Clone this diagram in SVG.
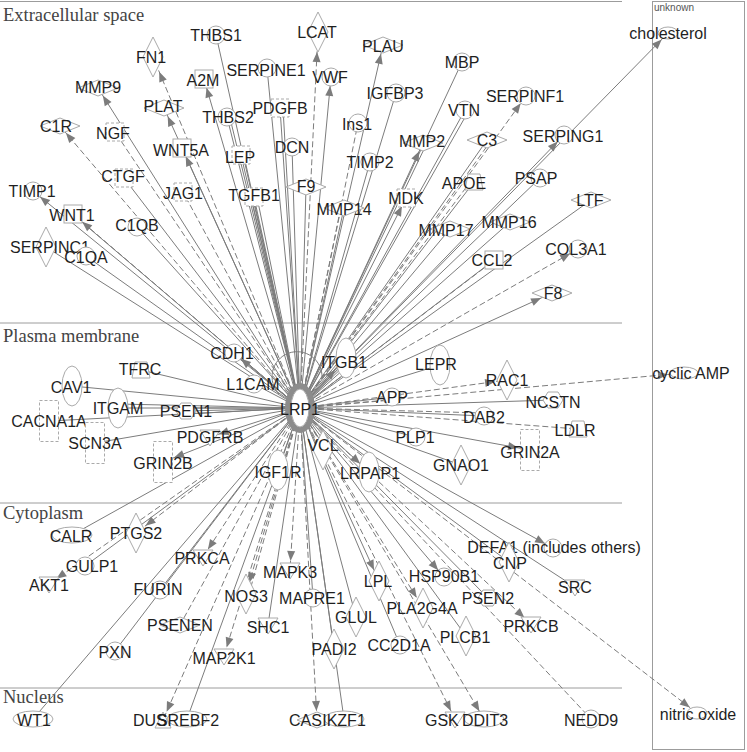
<svg xmlns="http://www.w3.org/2000/svg" width="747" height="752" viewBox="0 0 747 752">
<style>
.sec{stroke:#9c9c9c;stroke-width:1;fill:none}
.lab{font-family:"Liberation Serif",serif;font-size:18.5px;fill:#444}
.unk{font-family:"Liberation Sans",sans-serif;font-size:10px;fill:#555}
.s{stroke:#7c7c7c;stroke-width:1;fill:none}
.d{stroke:#7c7c7c;stroke-width:1;fill:none;stroke-dasharray:6 3}
.n{fill:#fff;stroke:#aaa;stroke-width:1}
.nd{fill:#fff;stroke:#aaa;stroke-width:1;stroke-dasharray:3 2}
.t{font-family:"Liberation Sans",Arial,sans-serif;font-size:16px;fill:#1f1f1f;text-anchor:middle}
.ts{font-family:"Liberation Sans",Arial,sans-serif;font-size:16px;fill:#1f1f1f;text-anchor:start}
</style>
<defs>
<marker id="a9" markerUnits="userSpaceOnUse" markerWidth="11" markerHeight="9" refX="19" refY="4" orient="auto" overflow="visible"><path d="M0,0 L10,4 L0,8 z" fill="#7c7c7c"/></marker>
<marker id="a12" markerUnits="userSpaceOnUse" markerWidth="11" markerHeight="9" refX="22" refY="4" orient="auto" overflow="visible"><path d="M0,0 L10,4 L0,8 z" fill="#7c7c7c"/></marker>
<marker id="a16" markerUnits="userSpaceOnUse" markerWidth="11" markerHeight="9" refX="26" refY="4" orient="auto" overflow="visible"><path d="M0,0 L10,4 L0,8 z" fill="#7c7c7c"/></marker>
<marker id="a20" markerUnits="userSpaceOnUse" markerWidth="11" markerHeight="9" refX="30" refY="4" orient="auto" overflow="visible"><path d="M0,0 L10,4 L0,8 z" fill="#7c7c7c"/></marker>
<circle id="c" r="9"/>
<path id="hd" d="M-20,0 L0,-8 L20,0 L0,8 Z"/>
<path id="vd" d="M0,-20 L10,0 L0,20 L-10,0 Z"/>
<rect id="sq" x="-9" y="-9" width="18" height="18"/>
<ellipse id="ve" rx="10" ry="20"/>
<ellipse id="he" rx="20" ry="8"/>
<ellipse id="ch" rx="10" ry="6"/>
<ellipse id="ch2" rx="14" ry="6"/>
<path id="kt" d="M-10,-7 L10,-7 L0,9 Z"/>
<path id="tr" d="M-6,-8 L6,-8 L9,8 L-9,8 Z"/>
<path id="hx" d="M-10,0 L-5,-8 L5,-8 L10,0 L5,8 L-5,8 Z"/>
<path id="ph" d="M-8,8 L8,8 L0,-8 Z"/>
<rect id="ic" x="-9.5" y="-20.5" width="19" height="41"/>
</defs>
<rect width="747" height="752" fill="#fff"/>
<g id="compartments">
<line class="sec" x1="0" y1="1.5" x2="622" y2="1.5"/>
<line class="sec" x1="0" y1="323" x2="622" y2="323"/>
<line class="sec" x1="0" y1="503" x2="622" y2="503"/>
<line class="sec" x1="0" y1="688" x2="622" y2="688"/>
<rect class="sec" x="652.5" y="1.5" width="92" height="748"/>
<text class="lab" x="3" y="21">Extracellular space</text>
<text class="lab" x="3" y="342">Plasma membrane</text>
<text class="lab" x="3" y="519">Cytoplasm</text>
<text class="lab" x="3" y="703">Nucleus</text>
<text class="unk" x="654" y="11">unknown</text>
</g>
<g id="connectors">
<line class="s" x1="300" y1="408" x2="216" y2="35"/>
<line class="d" x1="300" y1="408" x2="318" y2="32" marker-end="url(#a20)"/>
<line class="d" x1="300" y1="408" x2="153" y2="57" marker-end="url(#a16)"/>
<line class="s" x1="300" y1="408" x2="383" y2="45" marker-end="url(#a9)"/>
<line class="s" x1="300" y1="408" x2="462" y2="62"/>
<line class="s" x1="300" y1="408" x2="204" y2="79" marker-end="url(#a9)"/>
<line class="s" x1="300" y1="408" x2="267" y2="68"/>
<line class="s" x1="300" y1="408" x2="331" y2="77" marker-end="url(#a9)"/>
<line class="s" x1="300" y1="408" x2="396" y2="93"/>
<line class="s" x1="300" y1="408" x2="98" y2="88" marker-end="url(#a9)"/>
<line class="s" x1="300" y1="408" x2="164" y2="108" marker-end="url(#a9)"/>
<line class="d" x1="300" y1="408" x2="526" y2="96" marker-end="url(#a9)"/>
<line class="s" x1="300" y1="408" x2="280" y2="108"/>
<line class="s" x1="300" y1="408" x2="283" y2="108"/>
<line class="d" x1="300" y1="408" x2="358" y2="123"/>
<line class="s" x1="300" y1="408" x2="227" y2="117"/>
<line class="s" x1="300" y1="408" x2="230" y2="118"/>
<line class="s" x1="300" y1="408" x2="465" y2="110"/>
<line class="s" x1="300" y1="408" x2="468" y2="112"/>
<line class="d" x1="300" y1="408" x2="60" y2="126" marker-end="url(#a9)"/>
<line class="d" x1="300" y1="408" x2="115" y2="132"/>
<line class="s" x1="300" y1="408" x2="487" y2="140"/>
<line class="d" x1="300" y1="408" x2="490" y2="142"/>
<line class="s" x1="300" y1="408" x2="564" y2="135" stroke-width="2" marker-end="url(#a9)"/>
<line class="s" x1="300" y1="408" x2="668" y2="33" marker-end="url(#a9)"/>
<line class="s" x1="300" y1="408" x2="423" y2="143" marker-end="url(#a9)"/>
<line class="s" x1="300" y1="408" x2="426" y2="145"/>
<line class="s" x1="300" y1="408" x2="182" y2="148" marker-end="url(#a9)"/>
<line class="s" x1="300" y1="408" x2="241" y2="155"/>
<line class="s" x1="300" y1="408" x2="244" y2="156"/>
<line class="s" x1="300" y1="408" x2="292" y2="147"/>
<line class="s" x1="300" y1="408" x2="370" y2="162"/>
<line class="s" x1="300" y1="408" x2="474" y2="182"/>
<line class="d" x1="300" y1="408" x2="471" y2="181"/>
<line class="s" x1="300" y1="408" x2="540" y2="178"/>
<line class="s" x1="300" y1="408" x2="124" y2="178"/>
<line class="d" x1="300" y1="408" x2="183" y2="192"/>
<line class="s" x1="300" y1="408" x2="251" y2="197"/>
<line class="s" x1="300" y1="408" x2="254" y2="197"/>
<line class="s" x1="300" y1="408" x2="257" y2="197"/>
<line class="s" x1="300" y1="408" x2="306" y2="187"/>
<line class="s" x1="300" y1="408" x2="344" y2="208"/>
<line class="d" x1="300" y1="408" x2="341" y2="208"/>
<line class="s" x1="300" y1="408" x2="406" y2="198" marker-end="url(#a9)"/>
<line class="s" x1="300" y1="408" x2="510" y2="222"/>
<line class="s" x1="300" y1="408" x2="450" y2="229"/>
<line class="s" x1="300" y1="408" x2="591" y2="200"/>
<line class="s" x1="300" y1="408" x2="33" y2="191" marker-end="url(#a9)"/>
<line class="d" x1="300" y1="408" x2="73" y2="214" marker-end="url(#a12)"/>
<line class="s" x1="300" y1="408" x2="76" y2="217"/>
<line class="s" x1="300" y1="408" x2="137" y2="227"/>
<line class="d" x1="300" y1="408" x2="578" y2="249" marker-end="url(#a9)"/>
<line class="s" x1="300" y1="408" x2="494" y2="260"/>
<line class="d" x1="300" y1="408" x2="492" y2="262"/>
<line class="s" x1="300" y1="408" x2="46" y2="247"/>
<line class="s" x1="300" y1="408" x2="86" y2="256"/>
<line class="s" x1="300" y1="408" x2="552" y2="293" marker-end="url(#a12)"/>
<line class="s" x1="300" y1="408" x2="234" y2="353" marker-end="url(#a9)"/>
<line class="s" x1="300" y1="408" x2="346" y2="358" marker-end="url(#a16)"/>
<line class="s" x1="300" y1="408" x2="343" y2="360"/>
<line class="s" x1="300" y1="408" x2="440" y2="365"/>
<line class="s" x1="300" y1="408" x2="141" y2="370"/>
<line class="s" x1="300" y1="408" x2="254" y2="384"/>
<line class="d" x1="300" y1="408" x2="507" y2="380" marker-end="url(#a12)"/>
<line class="d" x1="300" y1="408" x2="684" y2="373" marker-end="url(#a16)"/>
<line class="s" x1="300" y1="408" x2="72" y2="386"/>
<line class="s" x1="300" y1="408" x2="118" y2="408"/>
<line class="s" x1="300" y1="408" x2="118" y2="404"/>
<line class="s" x1="300" y1="408" x2="186" y2="411"/>
<line class="s" x1="300" y1="408" x2="186" y2="408"/>
<line class="s" x1="300" y1="408" x2="186" y2="414"/>
<line class="s" x1="300" y1="408" x2="553" y2="400"/>
<line class="s" x1="300" y1="408" x2="392" y2="397"/>
<line class="d" x1="300" y1="408" x2="392" y2="400"/>
<line class="s" x1="300" y1="408" x2="484" y2="416"/>
<line class="d" x1="300" y1="408" x2="484" y2="413"/>
<line class="d" x1="300" y1="408" x2="578" y2="429"/>
<line class="s" x1="300" y1="408" x2="49" y2="421"/>
<line class="s" x1="300" y1="408" x2="95" y2="443"/>
<line class="s" x1="300" y1="408" x2="210" y2="437" marker-end="url(#a9)"/>
<line class="s" x1="300" y1="408" x2="163" y2="462" marker-end="url(#a12)"/>
<line class="s" x1="300" y1="408" x2="416" y2="437"/>
<line class="s" x1="300" y1="408" x2="323" y2="445"/>
<line class="s" x1="300" y1="408" x2="530" y2="450" marker-end="url(#a12)"/>
<line class="s" x1="300" y1="408" x2="278" y2="470"/>
<line class="s" x1="300" y1="408" x2="369" y2="472" marker-end="url(#a12)"/>
<line class="s" x1="300" y1="408" x2="461" y2="465"/>
<line class="s" x1="300" y1="408" x2="72" y2="535"/>
<line class="d" x1="300" y1="408" x2="136" y2="533" marker-end="url(#a12)"/>
<line class="s" x1="300" y1="408" x2="553" y2="548" marker-end="url(#a9)"/>
<line class="s" x1="300" y1="408" x2="509" y2="562"/>
<line class="s" x1="300" y1="408" x2="85" y2="566"/>
<line class="d" x1="300" y1="408" x2="203" y2="557" marker-end="url(#a9)"/>
<line class="d" x1="300" y1="408" x2="49" y2="584" marker-end="url(#a9)"/>
<line class="s" x1="300" y1="408" x2="444" y2="577" marker-end="url(#a9)"/>
<line class="s" x1="300" y1="408" x2="575" y2="587"/>
<line class="s" x1="300" y1="408" x2="160" y2="590"/>
<line class="d" x1="300" y1="408" x2="290" y2="570" marker-end="url(#a9)"/>
<line class="d" x1="300" y1="408" x2="246" y2="594" marker-end="url(#a12)"/>
<line class="d" x1="300" y1="408" x2="249" y2="594"/>
<line class="s" x1="300" y1="408" x2="313" y2="598"/>
<line class="s" x1="300" y1="408" x2="379" y2="581" marker-end="url(#a12)"/>
<line class="d" x1="300" y1="408" x2="423" y2="608" marker-end="url(#a12)"/>
<line class="s" x1="300" y1="408" x2="488" y2="598"/>
<line class="d" x1="300" y1="408" x2="180" y2="625"/>
<line class="s" x1="300" y1="408" x2="268" y2="625"/>
<line class="s" x1="300" y1="408" x2="356" y2="617"/>
<line class="d" x1="300" y1="408" x2="531" y2="624" marker-end="url(#a9)"/>
<line class="s" x1="300" y1="408" x2="466" y2="636"/>
<line class="s" x1="300" y1="408" x2="115" y2="651"/>
<line class="d" x1="300" y1="408" x2="224" y2="656" marker-end="url(#a9)"/>
<line class="s" x1="300" y1="408" x2="400" y2="645"/>
<line class="s" x1="300" y1="408" x2="334" y2="649"/>
<line class="s" x1="300" y1="408" x2="33" y2="719"/>
<line class="d" x1="300" y1="408" x2="163" y2="720" marker-end="url(#a9)"/>
<line class="s" x1="300" y1="408" x2="187" y2="719"/>
<line class="d" x1="300" y1="408" x2="317" y2="720" marker-end="url(#a9)"/>
<line class="s" x1="300" y1="408" x2="344" y2="719"/>
<line class="d" x1="300" y1="408" x2="455" y2="719" marker-end="url(#a9)"/>
<line class="d" x1="300" y1="408" x2="484" y2="719" marker-end="url(#a9)"/>
<line class="d" x1="300" y1="408" x2="591" y2="719"/>
<line class="d" x1="300" y1="408" x2="697" y2="713" marker-end="url(#a9)"/>
<path class="s" d="M279,394 A25,25 0 1 1 322,378"/>
</g>
<g id="nodes">
<g id="n-THBS1"><use href="#c" class="n" x="216" y="35"/><text class="t" x="216" y="41">THBS1</text></g>
<g id="n-LCAT"><use href="#vd" class="n" x="318" y="32"/><text class="t" x="317" y="38">LCAT</text></g>
<g id="n-FN1"><use href="#vd" class="n" x="153" y="57"/><text class="t" x="151" y="63">FN1</text></g>
<g id="n-PLAU"><use href="#hd" class="n" x="383" y="45"/><text class="t" x="383" y="52">PLAU</text></g>
<g id="n-MBP"><use href="#c" class="n" x="462" y="62"/><text class="t" x="462" y="68">MBP</text></g>
<g id="n-A2M"><use href="#sq" class="n" x="204" y="79"/><text class="t" x="203" y="86">A2M</text></g>
<g id="n-SERPINE1"><use href="#c" class="n" x="267" y="68"/><text class="t" x="266" y="76">SERPINE1</text></g>
<g id="n-VWF"><use href="#c" class="n" x="331" y="77"/><text class="t" x="330" y="83">VWF</text></g>
<g id="n-IGFBP3"><use href="#c" class="n" x="396" y="93"/><text class="t" x="395" y="99">IGFBP3</text></g>
<g id="n-MMP9"><use href="#hd" class="n" x="98" y="88"/><text class="t" x="98" y="93">MMP9</text></g>
<g id="n-PLAT"><use href="#hd" class="n" x="164" y="108"/><text class="t" x="163" y="112">PLAT</text></g>
<g id="n-SERPINF1"><use href="#c" class="n" x="526" y="96"/><text class="t" x="525" y="102">SERPINF1</text></g>
<g id="n-PDGFB"><use href="#sq" class="nd" x="280" y="108"/><text class="t" x="280" y="114">PDGFB</text></g>
<g id="n-Ins1"><use href="#c" class="n" x="358" y="123"/><text class="t" x="357" y="130">Ins1</text></g>
<g id="n-THBS2"><use href="#c" class="n" x="227" y="117"/><text class="t" x="228" y="123">THBS2</text></g>
<g id="n-VTN"><use href="#c" class="n" x="465" y="110"/><text class="t" x="464" y="116">VTN</text></g>
<g id="n-C1R"><use href="#hd" class="n" x="60" y="126"/><text class="t" x="56" y="132">C1R</text></g>
<g id="n-NGF"><use href="#sq" class="nd" x="115" y="132"/><text class="t" x="113" y="139">NGF</text></g>
<g id="n-C3"><use href="#hd" class="n" x="487" y="140"/><text class="t" x="487" y="146">C3</text></g>
<g id="n-SERPING1"><use href="#c" class="n" x="564" y="135"/><text class="t" x="563" y="142">SERPING1</text></g>
<g id="n-MMP2"><use href="#hd" class="n" x="423" y="143"/><text class="t" x="422" y="147">MMP2</text></g>
<g id="n-WNT5A"><use href="#sq" class="n" x="182" y="148"/><text class="t" x="181" y="156">WNT5A</text></g>
<g id="n-LEP"><use href="#sq" class="nd" x="241" y="155"/><text class="t" x="240" y="163">LEP</text></g>
<g id="n-DCN"><use href="#c" class="n" x="292" y="147"/><text class="t" x="292" y="153">DCN</text></g>
<g id="n-TIMP2"><use href="#c" class="n" x="370" y="162"/><text class="t" x="370" y="168">TIMP2</text></g>
<g id="n-APOE"><use href="#tr" class="n" x="474" y="182"/><text class="t" x="464" y="189">APOE</text></g>
<g id="n-PSAP"><use href="#c" class="n" x="540" y="178"/><text class="t" x="536" y="184">PSAP</text></g>
<g id="n-CTGF"><use href="#sq" class="nd" x="124" y="178"/><text class="t" x="123" y="182">CTGF</text></g>
<g id="n-JAG1"><use href="#sq" class="nd" x="183" y="192"/><text class="t" x="183" y="199">JAG1</text></g>
<g id="n-TGFB1"><use href="#sq" class="nd" x="254" y="197"/><text class="t" x="254" y="201">TGFB1</text></g>
<g id="n-F9"><use href="#hd" class="n" x="306" y="187"/><text class="t" x="306" y="192">F9</text></g>
<g id="n-MMP14"><use href="#hd" class="n" x="344" y="208"/><text class="t" x="344" y="215">MMP14</text></g>
<g id="n-MDK"><use href="#sq" class="nd" x="406" y="198"/><text class="t" x="406" y="204">MDK</text></g>
<g id="n-MMP16"><use href="#hd" class="n" x="510" y="222"/><text class="t" x="509" y="228">MMP16</text></g>
<g id="n-MMP17"><use href="#hd" class="n" x="450" y="229"/><text class="t" x="446" y="236">MMP17</text></g>
<g id="n-LTF"><use href="#hd" class="n" x="591" y="200"/><text class="t" x="590" y="206">LTF</text></g>
<g id="n-TIMP1"><use href="#c" class="n" x="33" y="191"/><text class="t" x="32" y="197">TIMP1</text></g>
<g id="n-WNT1"><use href="#sq" class="n" x="73" y="214"/><text class="t" x="72" y="221">WNT1</text></g>
<g id="n-C1QB"><use href="#c" class="n" x="137" y="227"/><text class="t" x="137" y="231">C1QB</text></g>
<g id="n-COL3A1"><use href="#c" class="n" x="578" y="249"/><text class="t" x="576" y="255">COL3A1</text></g>
<g id="n-CCL2"><use href="#sq" class="n" x="494" y="260"/><text class="t" x="492" y="266">CCL2</text></g>
<g id="n-SERPINC1"><use href="#vd" class="n" x="46" y="247"/><text class="t" x="50" y="253">SERPINC1</text></g>
<g id="n-C1QA"><use href="#c" class="n" x="86" y="256"/><text class="t" x="86" y="263">C1QA</text></g>
<g id="n-F8"><use href="#hd" class="n" x="552" y="293"/><text class="t" x="553" y="299">F8</text></g>
<g id="n-cholesterol"><use href="#ch" class="n" x="668" y="33"/><text class="t" x="668" y="39">cholesterol</text></g>
<g id="n-CDH1"><use href="#c" class="n" x="234" y="353"/><text class="t" x="232" y="359">CDH1</text></g>
<g id="n-ITGB1"><use href="#ve" class="n" x="346" y="358"/><text class="t" x="344" y="368">ITGB1</text></g>
<g id="n-LEPR"><use href="#ve" class="n" x="440" y="365"/><text class="t" x="436" y="370">LEPR</text></g>
<g id="n-TFRC"><use href="#tr" class="n" x="141" y="370"/><text class="t" x="140" y="375">TFRC</text></g>
<g id="n-L1CAM"><use href="#c" class="n" x="254" y="384"/><text class="t" x="253" y="390">L1CAM</text></g>
<g id="n-RAC1"><use href="#vd" class="n" x="507" y="380"/><text class="t" x="507" y="386">RAC1</text></g>
<g id="n-cAMP"><use href="#ch2" class="n" x="684" y="373"/><text class="t" x="691" y="379">cyclic AMP</text></g>
<g id="n-CAV1"><use href="#ve" class="n" x="72" y="386"/><text class="t" x="71" y="393">CAV1</text></g>
<g id="n-ITGAM"><use href="#ve" class="n" x="118" y="408"/><text class="t" x="118" y="414">ITGAM</text></g>
<g id="n-PSEN1"><use href="#hx" class="n" x="186" y="411"/><text class="t" x="186" y="417">PSEN1</text></g>
<g id="n-NCSTN"><use href="#hx" class="n" x="553" y="400"/><text class="t" x="553" y="408">NCSTN</text></g>
<g id="n-APP"><use href="#c" class="n" x="392" y="397"/><text class="t" x="392" y="403">APP</text></g>
<g id="n-DAB2"><use href="#c" class="n" x="484" y="416"/><text class="t" x="484" y="423">DAB2</text></g>
<g id="n-LDLR"><use href="#tr" class="n" x="578" y="429"/><text class="t" x="575" y="436">LDLR</text></g>
<g id="n-CACNA1A"><use href="#ic" class="nd" x="49" y="421"/><text class="t" x="49" y="427">CACNA1A</text></g>
<g id="n-SCN3A"><use href="#ic" class="nd" x="95" y="443"/><text class="t" x="95" y="449">SCN3A</text></g>
<g id="n-PDGFRB"><use href="#kt" class="n" x="210" y="437"/><text class="t" x="210" y="443">PDGFRB</text></g>
<g id="n-GRIN2B"><use href="#ic" class="nd" x="163" y="462"/><text class="t" x="163" y="469">GRIN2B</text></g>
<g id="n-PLP1"><use href="#c" class="n" x="416" y="437"/><text class="t" x="415" y="443">PLP1</text></g>
<g id="n-VCL"><use href="#vd" class="n" x="323" y="450"/><text class="t" x="323" y="451">VCL</text></g>
<g id="n-GRIN2A"><use href="#ic" class="nd" x="530" y="450"/><text class="t" x="530" y="458">GRIN2A</text></g>
<g id="n-IGF1R"><use href="#ve" class="n" x="278" y="470"/><text class="t" x="278" y="478">IGF1R</text></g>
<g id="n-LRPAP1"><use href="#ve" class="n" x="369" y="472"/><text class="t" x="370" y="479">LRPAP1</text></g>
<g id="n-GNAO1"><use href="#vd" class="n" x="461" y="465"/><text class="t" x="461" y="471">GNAO1</text></g>
<g id="n-CALR"><use href="#he" class="n" x="72" y="535"/><text class="t" x="71" y="542">CALR</text></g>
<g id="n-PTGS2"><use href="#vd" class="n" x="136" y="533"/><text class="t" x="136" y="539">PTGS2</text></g>
<g id="n-DEFA1"><use href="#c" class="n" x="553" y="548"/><text class="t" x="554" y="553">DEFA1 (includes others)</text></g>
<g id="n-CNP"><use href="#vd" class="n" x="509" y="562"/><text class="t" x="510" y="569">CNP</text></g>
<g id="n-GULP1"><use href="#c" class="n" x="85" y="566"/><text class="t" x="92" y="572">GULP1</text></g>
<g id="n-PRKCA"><use href="#kt" class="n" x="203" y="557"/><text class="t" x="202" y="564">PRKCA</text></g>
<g id="n-AKT1"><use href="#kt" class="n" x="49" y="584"/><text class="t" x="49" y="591">AKT1</text></g>
<g id="n-HSP90B1"><use href="#c" class="n" x="444" y="577"/><text class="t" x="444" y="582">HSP90B1</text></g>
<g id="n-SRC"><use href="#kt" class="n" x="575" y="587"/><text class="t" x="575" y="593">SRC</text></g>
<g id="n-FURIN"><use href="#c" class="n" x="160" y="590"/><text class="t" x="158" y="595">FURIN</text></g>
<g id="n-MAPK3"><use href="#kt" class="n" x="290" y="570"/><text class="t" x="290" y="578">MAPK3</text></g>
<g id="n-NOS3"><use href="#vd" class="n" x="246" y="594"/><text class="t" x="246" y="602">NOS3</text></g>
<g id="n-MAPRE1"><use href="#c" class="n" x="313" y="598"/><text class="t" x="312" y="604">MAPRE1</text></g>
<g id="n-LPL"><use href="#vd" class="n" x="379" y="581"/><text class="t" x="378" y="587">LPL</text></g>
<g id="n-PLA2G4A"><use href="#vd" class="n" x="423" y="608"/><text class="t" x="422" y="614">PLA2G4A</text></g>
<g id="n-PSEN2"><use href="#hx" class="n" x="488" y="598"/><text class="t" x="488" y="604">PSEN2</text></g>
<g id="n-PSENEN"><use href="#hd" class="n" x="180" y="625"/><text class="t" x="180" y="631">PSENEN</text></g>
<g id="n-SHC1"><use href="#kt" class="n" x="268" y="625"/><text class="t" x="268" y="633">SHC1</text></g>
<g id="n-GLUL"><use href="#vd" class="n" x="356" y="617"/><text class="t" x="356" y="623">GLUL</text></g>
<g id="n-PRKCB"><use href="#kt" class="n" x="531" y="624"/><text class="t" x="531" y="632">PRKCB</text></g>
<g id="n-PLCB1"><use href="#vd" class="n" x="466" y="636"/><text class="t" x="465" y="643">PLCB1</text></g>
<g id="n-PXN"><use href="#c" class="n" x="115" y="651"/><text class="t" x="115" y="658">PXN</text></g>
<g id="n-MAP2K1"><use href="#kt" class="n" x="224" y="656"/><text class="t" x="224" y="664">MAP2K1</text></g>
<g id="n-CC2D1A"><use href="#c" class="n" x="400" y="645"/><text class="t" x="399" y="651">CC2D1A</text></g>
<g id="n-PADI2"><use href="#vd" class="n" x="334" y="649"/><text class="t" x="334" y="655">PADI2</text></g>
<g id="n-WT1"><use href="#he" class="n" x="33" y="719"/><text class="t" x="34" y="726">WT1</text></g>
<g id="n-DUS"><use href="#ph" class="n" x="163" y="720"/><text class="ts" x="133" y="726">DUS</text></g>
<g id="n-SREBF2"><use href="#he" class="n" x="187" y="719"/><text class="t" x="188" y="726">SREBF2</text></g>
<g id="n-CAS"><use href="#hd" class="n" x="317" y="720"/><text class="ts" x="289" y="726">CAS</text></g>
<g id="n-IKZF1"><use href="#he" class="n" x="344" y="719"/><text class="t" x="344" y="726">IKZF1</text></g>
<g id="n-GSK"><use href="#kt" class="n" x="455" y="719"/><text class="ts" x="425" y="726">GSK</text></g>
<g id="n-DDIT3"><use href="#he" class="n" x="484" y="719"/><text class="t" x="485" y="726">DDIT3</text></g>
<g id="n-NEDD9"><use href="#c" class="n" x="591" y="719"/><text class="t" x="591" y="726">NEDD9</text></g>
<g id="n-NO"><use href="#ch" class="n" x="697" y="713"/><text class="t" x="698" y="720">nitric oxide</text></g>
<g id="n-LRP1"><ellipse cx="300" cy="408" rx="15" ry="25" fill="#8c8c8c"/><ellipse cx="300" cy="408" rx="9" ry="19" fill="#fff" stroke="#aaa"/><text class="t" x="300" y="415">LRP1</text></g>
</g>
</svg>
